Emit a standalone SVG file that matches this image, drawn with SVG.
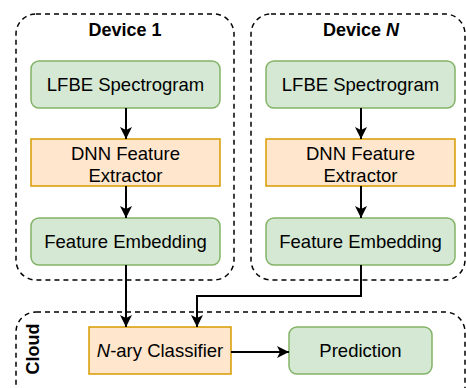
<svg xmlns="http://www.w3.org/2000/svg" width="466" height="388" viewBox="0 0 466 388">
<style>
.grp{fill:none;stroke:#000;stroke-width:1.5;stroke-dasharray:5 4}
.green{fill:#d5e8d4;stroke:#82b366;stroke-width:1.5}
.orange{fill:#ffe6cc;stroke:#d79b00;stroke-width:1.5}
.t{font-family:"Liberation Sans",Arial,sans-serif;font-size:18.5px;fill:#000;text-anchor:middle}
.b{font-weight:bold;font-size:18px}
.edge{fill:none;stroke:#000;stroke-width:2}
</style>
<defs>
<marker id="arr" viewBox="0 0 12 12" refX="12" refY="6" markerWidth="12" markerHeight="12" markerUnits="userSpaceOnUse" orient="auto">
<path d="M0,0 L12,6 L0,12 L3,6 Z" fill="#000"/>
</marker>
</defs>
<g id="device1">
<rect class="grp" x="16" y="14" width="218" height="266" rx="20"/>
<text class="t b" x="125" y="36">Device 1</text>
</g>
<g id="deviceN">
<rect class="grp" x="251" y="14" width="214" height="266" rx="20"/>
<text class="t b" x="361" y="36">Device <tspan font-style="italic">N</tspan></text>
</g>
<g id="cloud">
<rect class="grp" x="16" y="312" width="449" height="110" rx="20"/>
<text class="t b" transform="translate(39,349) rotate(-90)">Cloud</text>
</g>
<g id="lfbe1">
<rect class="green" x="31" y="61" width="189" height="47" rx="8"/>
<text class="t" x="125.5" y="91">LFBE Spectrogram</text>
</g>
<g id="dnn1">
<rect class="orange" x="31" y="139" width="189" height="47"/>
<text class="t" x="125.5" y="160">DNN Feature</text>
<text class="t" x="125.5" y="182">Extractor</text>
</g>
<g id="fe1">
<rect class="green" x="31" y="218" width="189" height="47" rx="8"/>
<text class="t" x="125.5" y="248">Feature Embedding</text>
</g>
<g id="lfbeN">
<rect class="green" x="266" y="61" width="189" height="47" rx="8"/>
<text class="t" x="360.5" y="91">LFBE Spectrogram</text>
</g>
<g id="dnnN">
<rect class="orange" x="266" y="139" width="189" height="47"/>
<text class="t" x="360.5" y="160">DNN Feature</text>
<text class="t" x="360.5" y="182">Extractor</text>
</g>
<g id="feN">
<rect class="green" x="266" y="218" width="189" height="47" rx="8"/>
<text class="t" x="360.5" y="248">Feature Embedding</text>
</g>
<g id="classifier">
<rect class="orange" x="89" y="327" width="142" height="47"/>
<text class="t" x="160" y="357"><tspan font-style="italic">N</tspan>-ary Classifier</text>
</g>
<g id="prediction">
<rect class="green" x="289" y="327" width="143" height="47" rx="8"/>
<text class="t" x="360.5" y="357">Prediction</text>
</g>
<g id="connectors">
<path class="edge" d="M126,108 V139" marker-end="url(#arr)"/>
<path class="edge" d="M126,186 V218" marker-end="url(#arr)"/>
<path class="edge" d="M361,108 V139" marker-end="url(#arr)"/>
<path class="edge" d="M361,186 V218" marker-end="url(#arr)"/>
<path class="edge" d="M126,265 V327" marker-end="url(#arr)"/>
<path class="edge" d="M361,265 V296 H197 V327" marker-end="url(#arr)"/>
<path class="edge" d="M231,352 H289" marker-end="url(#arr)"/>
</g>
</svg>
